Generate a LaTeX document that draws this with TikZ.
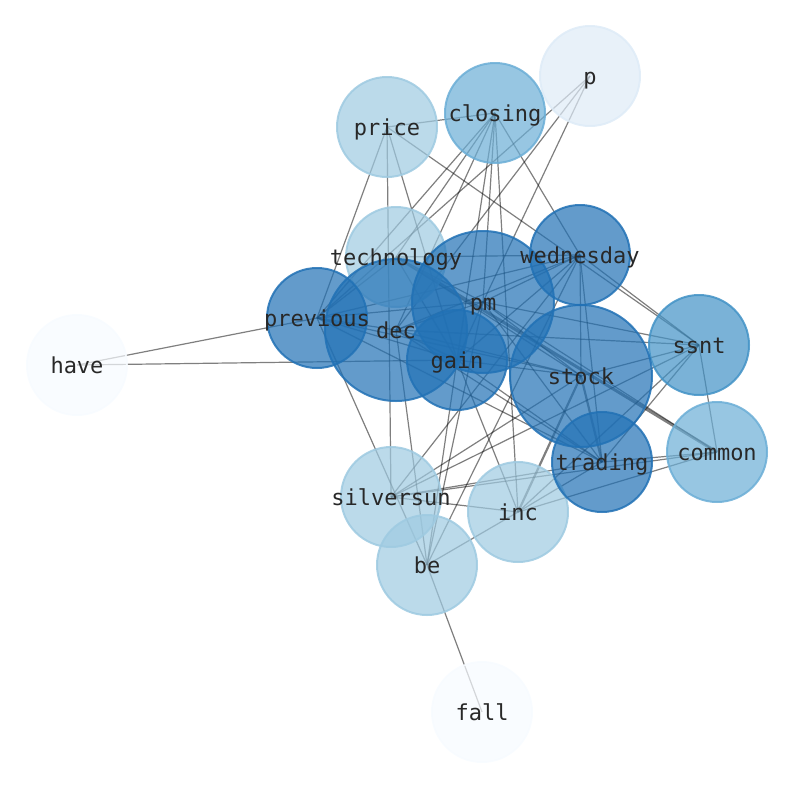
\documentclass[tikz,border=0pt]{standalone}
\usepackage{fontspec}
\usetikzlibrary{backgrounds}
\newfontfamily\wordfont{DejaVu Sans Mono}
\definecolor{cDeep}{RGB}{33,113,181}
\definecolor{cMid}{RGB}{66,146,198}
\definecolor{cLight}{RGB}{107,174,214}
\definecolor{cPale}{RGB}{158,202,225}
\definecolor{cFaint}{RGB}{222,235,247}
\definecolor{cWhite}{RGB}{247,251,255}
\definecolor{cText}{RGB}{40,40,40}
\tikzset{
	word/.style={circle, minimum size=100pt, inner sep=0pt, line width=2pt, fill opacity=0.7, draw opacity=0.85},
	hub/.style={word, minimum size=142pt},
	lbl/.style={font=\wordfont\fontsize{22}{26}\selectfont, text=cText, inner sep=0pt, text height=16pt, text depth=5pt, yshift=-3pt},
	link/.style={draw=black, opacity=0.5, line width=1.2pt},
	heavy/.style={link, line width=3pt},
}

\begin{document}
\begin{tikzpicture}[x=1pt, y=-1pt]
	\useasboundingbox (0,0) rectangle (794,790);
	% word circles
	\node[word, fill=cWhite, draw=cWhite] (have) at (77,365) {};
	\node[word, fill=cWhite, draw=cWhite] (fall) at (482,712) {};
	\node[word, fill=cFaint, draw=cFaint] (p) at (590,76) {};
	\node[word, fill=cPale, draw=cPale] (price) at (387,127) {};
	\node[word, fill=cLight, draw=cLight] (closing) at (495,113) {};
	\node[word, fill=cPale, draw=cPale] (technology) at (396,257) {};
	\node[word, fill=cPale, draw=cPale] (silversun) at (391,497) {};
	\node[word, fill=cPale, draw=cPale] (inc) at (518,512) {};
	\node[word, fill=cPale, draw=cPale] (be) at (427,565) {};
	\node[word, fill=cLight, draw=cLight] (common) at (717,452) {};
	\node[word, fill=cMid, draw=cMid] (ssnt) at (699,345) {};
	\node[word, fill=cDeep, draw=cDeep] (wednesday) at (580,255) {};
	\node[word, fill=cDeep, draw=cDeep] (previous) at (317,318) {};
	\node[hub, fill=cDeep, draw=cDeep] (pm) at (483,302) {};
	\node[hub, fill=cDeep, draw=cDeep] (dec) at (396,330) {};
	\node[word, fill=cDeep, draw=cDeep] (gain) at (457,360) {};
	\node[hub, fill=cDeep, draw=cDeep] (stock) at (581,376) {};
	\node[word, fill=cDeep, draw=cDeep] (trading) at (602,462) {};
	% word labels
	\node[lbl] (have-l) at (have) {have};
	\node[lbl] (fall-l) at (fall) {fall};
	\node[lbl] (p-l) at (p) {p};
	\node[lbl] (price-l) at (price) {price};
	\node[lbl] (closing-l) at (closing) {closing};
	\node[lbl] (technology-l) at (technology) {technology};
	\node[lbl] (silversun-l) at (silversun) {silversun};
	\node[lbl] (inc-l) at (inc) {inc};
	\node[lbl] (be-l) at (be) {be};
	\node[lbl] (common-l) at (common) {common};
	\node[lbl] (ssnt-l) at (ssnt) {ssnt};
	\node[lbl] (wednesday-l) at (wednesday) {wednesday};
	\node[lbl] (previous-l) at (previous) {previous};
	\node[lbl] (pm-l) at (pm) {pm};
	\node[lbl] (dec-l) at (dec) {dec};
	\node[lbl] (gain-l) at (gain) {gain};
	\node[lbl] (stock-l) at (stock) {stock};
	\node[lbl] (trading-l) at (trading) {trading};
	% co-occurrence links
	\begin{scope}[on background layer]
		\draw[link] (have.center) -- (previous.center);
		\draw[link] (have.center) -- (gain.center);
		\draw[link] (fall.center) -- (be.center);
		\draw[link] (p.center) -- (previous.center);
		\draw[link] (p.center) -- (dec.center);
		\draw[link] (p.center) -- (pm.center);
		\draw[link] (price.center) -- (closing.center);
		\draw[link] (price.center) -- (previous.center);
		\draw[link] (price.center) -- (silversun.center);
		\draw[link] (price.center) -- (gain.center);
		\draw[link] (price.center) -- (ssnt.center);
		\draw[link] (closing.center) -- (previous.center);
		\draw[link] (closing.center) -- (dec.center);
		\draw[link] (closing.center) -- (pm.center);
		\draw[link] (closing.center) -- (gain.center);
		\draw[link] (closing.center) -- (inc.center);
		\draw[link] (closing.center) -- (wednesday.center);
		\draw[link] (closing.center) -- (technology.center);
		\draw[heavy] (technology.center) -- (common.center);
		\draw[link] (technology.center) -- (previous.center);
		\draw[link] (technology.center) -- (pm.center);
		\draw[link] (technology.center) -- (gain.center);
		\draw[link] (technology.center) -- (stock.center);
		\draw[link] (wednesday.center) -- (technology.center);
		\draw[link] (wednesday.center) -- (previous.center);
		\draw[link] (wednesday.center) -- (dec.center);
		\draw[link] (wednesday.center) -- (pm.center);
		\draw[link] (wednesday.center) -- (gain.center);
		\draw[link] (wednesday.center) -- (stock.center);
		\draw[link] (wednesday.center) -- (trading.center);
		\draw[link] (wednesday.center) -- (ssnt.center);
		\draw[link] (wednesday.center) -- (silversun.center);
		\draw[link] (wednesday.center) -- (be.center);
		\draw[link] (pm.center) -- (previous.center);
		\draw[link] (pm.center) -- (dec.center);
		\draw[link] (pm.center) -- (gain.center);
		\draw[link] (pm.center) -- (stock.center);
		\draw[link] (pm.center) -- (ssnt.center);
		\draw[link] (pm.center) -- (trading.center);
		\draw[link] (pm.center) -- (common.center);
		\draw[link] (pm.center) -- (be.center);
		\draw[link] (dec.center) -- (previous.center);
		\draw[link] (dec.center) -- (gain.center);
		\draw[link] (dec.center) -- (stock.center);
		\draw[link] (dec.center) -- (trading.center);
		\draw[link] (dec.center) -- (be.center);
		\draw[link] (dec.center) -- (ssnt.center);
		\draw[link] (previous.center) -- (gain.center);
		\draw[link] (previous.center) -- (trading.center);
		\draw[link] (previous.center) -- (stock.center);
		\draw[link] (previous.center) -- (be.center);
		\draw[link] (gain.center) -- (stock.center);
		\draw[link] (gain.center) -- (inc.center);
		\draw[link] (gain.center) -- (be.center);
		\draw[link] (gain.center) -- (trading.center);
		\draw[link] (stock.center) -- (ssnt.center);
		\draw[heavy, line width=2.2pt] (stock.center) -- (trading.center);
		\draw[heavy, line width=2.2pt] (stock.center) -- (inc.center);
		\draw[link] (stock.center) -- (silversun.center);
		\draw[link] (ssnt.center) -- (common.center);
		\draw[link] (ssnt.center) -- (trading.center);
		\draw[link] (ssnt.center) -- (inc.center);
		\draw[link] (ssnt.center) -- (silversun.center);
		\draw[link] (common.center) -- (trading.center);
		\draw[link] (common.center) -- (inc.center);
		\draw[link] (common.center) -- (silversun.center);
		\draw[link] (trading.center) -- (silversun.center);
		\draw[link] (trading.center) -- (inc.center);
		\draw[link] (silversun.center) -- (inc.center);
		\draw[link] (inc.center) -- (be.center);
	\end{scope}
\end{tikzpicture}
\end{document}
